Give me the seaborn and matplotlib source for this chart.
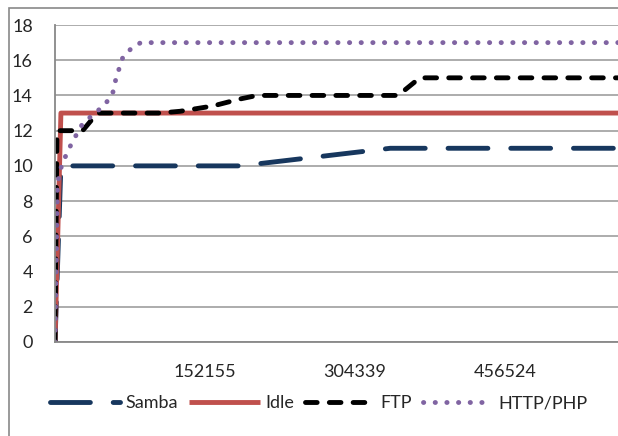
## Throughput / connections over time, four traffic scenarios
## Excel-style line chart rebuilt with seaborn

import pandas as pd
import matplotlib.pyplot as plt
import matplotlib.patches as mpatches
import seaborn as sns

##########################################################################
## 1. Data
##########################################################################

series_names = ["Samba", "Idle", "FTP", "HTTP/PHP"]

samba_x = [0, 6000, 188000, 340000, 571000]
samba_y = [0, 10, 10, 11, 11]

idle_x = [0, 6000, 571000]
idle_y = [0, 13, 13]

ftp_x = [0, 2000, 28000, 43000, 106500, 126800, 160000, 187700, 205000,
         348000, 370000, 571000]
ftp_y = [0, 12, 12, 13, 13, 13.1, 13.4, 13.8, 14, 14, 15, 15]

http_x = [0, 2500, 7000, 17000, 28000, 49000, 58000, 62000, 69000,
          78000, 87000, 571000]
http_y = [0, 9, 10.1, 11.3, 12.4, 13.4, 14, 15, 16.2, 16.7, 17, 17]

x_ticks = [152155, 304339, 456524]
y_ticks = [0, 2, 4, 6, 8, 10, 12, 14, 16, 18]

##########################################################################
## 2. Long-form table
##########################################################################

frames = []
for name, xs, ys in zip(series_names,
                        [samba_x, idle_x, ftp_x, http_x],
                        [samba_y, idle_y, ftp_y, http_y]):
    frames.append(pd.DataFrame({"x": xs, "y": ys, "series": name}))
df = pd.concat(frames, ignore_index=True)

palette = {
    "Samba": "#17375E",
    "Idle": "#C0504D",
    "FTP": "#000000",
    "HTTP/PHP": "#8064A2",
}
dashes = {
    "Samba": (8.2, 4.7),
    "Idle": "",
    "FTP": (2.4, 2.5),
    "HTTP/PHP": (0.05, 2.35),
}

##########################################################################
## 3. Plot
##########################################################################

sns.set_style("white")
plt.rcParams["font.family"] = ["Lato", "DejaVu Sans"]

fig = plt.figure(figsize=(6.18, 4.36), dpi=100)
ax = fig.add_axes([55 / 618, 1 - 342 / 436, 1 - 55 / 618, (342 - 25) / 436])

sns.lineplot(
    data=df, x="x", y="y",
    hue="series", style="series",
    hue_order=series_names, style_order=series_names,
    palette=palette, dashes=dashes,
    estimator=None, sort=False,
    linewidth=3.5, legend=False, ax=ax,
    dash_capstyle="round", solid_capstyle="butt",
)

ax.set_xlim(0, 571000)
ax.set_ylim(0, 18)
ax.set_xticks(x_ticks)
ax.set_xticklabels([str(v) for v in x_ticks])
ax.set_yticks(y_ticks)
ax.set_xlabel("")
ax.set_ylabel("")

ax.yaxis.grid(True, color="#A6A6A6", linewidth=1.3)
ax.set_axisbelow(True)
for side in ("top", "right"):
    ax.spines[side].set_visible(False)
for side in ("left", "bottom"):
    ax.spines[side].set_color("#888888")
    ax.spines[side].set_linewidth(1.3)

ax.tick_params(axis="both", direction="out", length=5, width=1.2,
               color="#888888", labelsize=13, pad=11)

handles = ax.lines[:len(series_names)]
fig.legend(
    handles, series_names,
    loc="center left", bbox_to_anchor=(50 / 618, 1 - 403 / 436),
    ncol=4, frameon=False, fontsize=13,
    handlelength=3.9, handletextpad=0.3, columnspacing=0.6,
    borderaxespad=0, borderpad=0,
)

## outer chart-area border (cropped at right/bottom like the reference)
fig.patches.append(mpatches.Rectangle(
    (8.5 / 618, -0.1), 1.2, 1 - 7.5 / 436 + 0.1,
    transform=fig.transFigure, fill=False,
    edgecolor="#898989", linewidth=1.2, zorder=0,
))

fig.savefig("out.png", dpi=100)
